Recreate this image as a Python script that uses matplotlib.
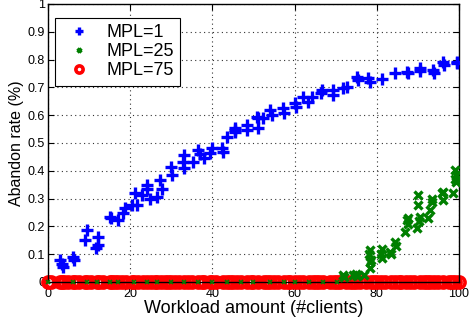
import matplotlib
matplotlib.use("Agg")
import matplotlib.pyplot as plt

plt.rcParams['font.family'] = ['Liberation Sans', 'DejaVu Sans']

# abandon rate vs workload, MPL=1
mpl1_x = [3, 3.4, 3.7, 6, 6.3, 9, 9.5, 11.8, 12.1, 12.2, 15, 15.4, 17, 18.2, 18.7,
          20.4, 21.2, 21.6, 22.9, 24, 24.1, 24.8, 26.5, 27.3, 27.7, 30, 30.2,
          32.8, 33, 33.2, 35.3, 36.5, 37, 38, 39.4, 40, 42.3, 42.5, 43.5, 45.4,
          45.5, 45.6, 48.4, 48.5, 50.8, 51, 51.1, 52.3, 54, 54.5, 57.2, 57.4,
          60, 60.3, 62, 63.3, 64.3, 66.5, 66.7, 69.3, 69.4, 71.8, 72.7, 75.2,
          75.4, 77.9, 78.3, 81.3, 84.4, 87.3, 87.5, 90.5, 90.6, 93.7, 94, 96.1,
          96.3, 99.5, 99.6]
mpl1_y = [0.079, 0.065, 0.054, 0.09, 0.079, 0.151, 0.187, 0.122, 0.133, 0.162,
          0.234, 0.23, 0.223, 0.248, 0.266, 0.277, 0.32, 0.277, 0.313, 0.35,
          0.335, 0.3, 0.305, 0.367, 0.335, 0.414, 0.385, 0.43, 0.457, 0.41,
          0.43, 0.475, 0.46, 0.445, 0.465, 0.48, 0.48, 0.467, 0.52, 0.54,
          0.553, 0.545, 0.565, 0.545, 0.594, 0.555, 0.59, 0.59, 0.62, 0.60,
          0.625, 0.607, 0.643, 0.63, 0.665, 0.647, 0.665, 0.68, 0.69, 0.69,
          0.673, 0.697, 0.70, 0.737, 0.727, 0.734, 0.72, 0.73, 0.752, 0.755,
          0.75, 0.77, 0.76, 0.763, 0.752, 0.79, 0.78, 0.79, 0.786]

# workloads where every run finished (zero abandon rate)
zero_x = [0, 0.8, 3, 3.5, 4, 4.8, 6, 6.5, 7.5, 9, 9.5, 10.5, 12, 12.5, 13.5, 15,
          15.5, 16.2, 17, 18, 19, 20.5, 21, 22, 23, 24, 25, 26, 26.5, 27.5,
          28.5, 29.3, 30, 31, 32, 33, 34, 35, 36.5, 37.5, 38, 39.5, 40, 41,
          42.5, 43.5, 44.3, 45, 46, 47, 48.5, 49.3, 50, 51, 52.5, 53.3, 54, 55,
          56, 57.5, 58.3, 59, 60, 61, 62, 63.5, 64.5, 65.3, 66, 67, 68.5, 69.5,
          70.3, 71, 72.5, 73.5, 74.3, 75, 76, 77.5, 78.5, 79.3, 80, 81, 82,
          83.5, 84.5, 85.3, 86, 87, 88, 89, 90.5, 91.5, 92.3, 93, 94, 95, 96,
          97.5, 98.3, 99, 100]

# MPL=25: zero below ~70 clients, then rising
mpl25_x = [71.8, 72, 74.2, 75, 75.1, 77, 78.3, 78.3, 78.2, 78.5, 78.4, 81.3,
           81.3, 81.1, 83.2, 83.5, 84.4, 84.6, 86.9, 87.3, 87.5, 87.5, 89.8, 90,
           90, 90.5, 90.3, 92.5, 93, 93.4, 93.5, 95.9, 96, 96.2, 98.5, 99, 99.2,
           99.2, 99.1]
mpl25_y = [0.025, 0.018, 0.025, 0.03, 0.02, 0.025, 0.05, 0.115, 0.1, 0.08, 0.07,
           0.12, 0.087, 0.1, 0.107, 0.1, 0.144, 0.128, 0.18, 0.223, 0.21, 0.23,
           0.194, 0.313, 0.277, 0.234, 0.22, 0.23, 0.26, 0.288, 0.3, 0.32, 0.295,
           0.325, 0.32, 0.403, 0.385, 0.36, 0.37]

mpl25_zero_x = [0, 6, 9.5, 12, 15, 17, 21, 24, 26.5, 30, 33, 36.5, 40, 43.5,
                47, 50, 54, 57.5, 60, 63.5, 67, 70.3]
mpl75_x = zero_x
mpl75_y = [0.0] * len(zero_x)

fig = plt.figure(figsize=(4.69, 3.2), dpi=100)
ax = fig.add_axes([0.1023, 0.119, 0.8763, 0.8688])

ax.plot(mpl1_x, mpl1_y, '+', color='#0000ff', ms=8, mew=2.4, label='MPL=1', zorder=3)
ax.plot(mpl25_x, mpl25_y, 'x', color='#007f00', ms=5.5, mew=2.4,
        label='MPL=25', zorder=3)
ax.plot(mpl75_x, mpl75_y, 'o', mfc='none', mec='#ff0000', ms=8, mew=2.6,
        label='MPL=75', zorder=2, clip_on=False)
# the green zeros sit on top of the red circles
ax.plot(mpl25_zero_x, [0.0] * len(mpl25_zero_x), 'x', color='#007f00', ms=2.5,
        mew=1.2, zorder=4, clip_on=False)

ax.set_xlim(0, 100)
ax.set_ylim(0, 1)
ax.set_xticks([0, 20, 40, 60, 80, 100])
ax.set_yticks([0, 0.1, 0.2, 0.3, 0.4, 0.5, 0.6, 0.7, 0.8, 0.9, 1])
ax.set_yticklabels(['0', '0.1', '0.2', '0.3', '0.4', '0.5', '0.6', '0.7', '0.8', '0.9', '1'])
ax.tick_params(direction='in', top=True, right=True, labelsize=9, length=4, pad=2)
ax.tick_params(axis='x', pad=4.5)
ax.grid(True, linestyle=(0, (1, 3)), color='#333333', linewidth=0.8)
for s in ax.spines.values():
    s.set_linewidth(1.0)

ax.set_xlabel('Workload amount (#clients)', fontsize=13, labelpad=0)
ax.set_ylabel('Abandon rate (%)', fontsize=11.5, labelpad=3)

leg = ax.legend(loc='upper left', bbox_to_anchor=(0.017, 0.95), fontsize=13,
                fancybox=False, framealpha=1, edgecolor='black',
                borderaxespad=0, handlelength=2.0, handletextpad=0.5,
                labelspacing=0.12, borderpad=0.35, markerscale=0.65)
leg.get_frame().set_linewidth(0.8)

fig.savefig('out.png', dpi=100)
